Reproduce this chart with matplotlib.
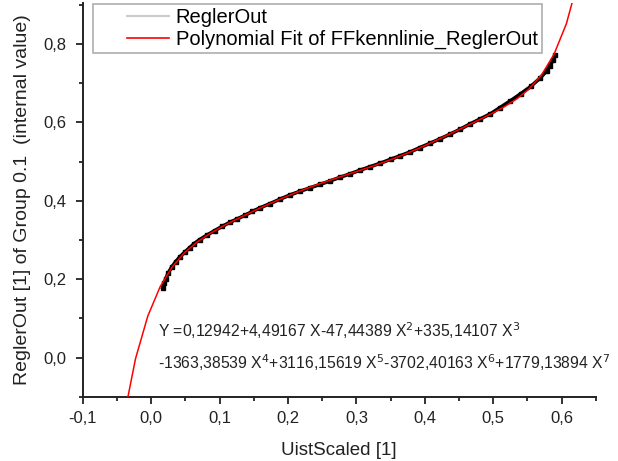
import matplotlib.pyplot as plt
import numpy as np
from matplotlib.lines import Line2D
from matplotlib.legend_handler import HandlerLine2D
from matplotlib.ticker import FuncFormatter, MultipleLocator

plt.rcParams['font.family'] = ['Liberation Sans', 'DejaVu Sans']

uist = [0.017, 0.019, 0.021, 0.025, 0.030, 0.036, 0.042, 0.049, 0.056, 0.063,
        0.071, 0.082, 0.093, 0.104, 0.115, 0.126, 0.137, 0.148, 0.159, 0.174,
        0.188, 0.203, 0.217, 0.232, 0.247, 0.262, 0.276, 0.291, 0.305, 0.320,
        0.335, 0.350, 0.364, 0.379, 0.393, 0.408, 0.422, 0.437, 0.452, 0.466,
        0.481, 0.496, 0.510, 0.525, 0.540, 0.555, 0.569, 0.578, 0.583, 0.588,
        0.591]
regler = [0.178, 0.189, 0.200, 0.216, 0.231, 0.245, 0.257, 0.269, 0.280, 0.291,
          0.301, 0.313, 0.324, 0.335, 0.345, 0.354, 0.363, 0.373, 0.382, 0.393,
          0.404, 0.415, 0.424, 0.433, 0.442, 0.451, 0.460, 0.469, 0.478, 0.487,
          0.496, 0.506, 0.515, 0.525, 0.536, 0.547, 0.558, 0.570, 0.583, 0.596,
          0.609, 0.622, 0.638, 0.655, 0.673, 0.692, 0.714, 0.731, 0.745, 0.760,
          0.772]

# polynomial fit coefficients (order 0..7) as printed on the chart
coef = [0.12942, 4.49167, -47.44389, 335.14107, -1363.38539, 3116.15619,
        -3702.40163, 1779.13894]

labels = ['ReglerOut', 'Polynomial Fit of FFkennlinie_ReglerOut']
eq1 = r'Y =0,12942+4,49167 X-47,44389 X$^2$+335,14107 X$^3$'
eq2 = r'-1363,38539 X$^4$+3116,15619 X$^5$-3702,40163 X$^6$+1779,13894 X$^7$'


class ShortHandle(HandlerLine2D):
    # legend line only on the right part of the handle box, like Origin
    def get_xdata(self, legend, xdescent, ydescent, width, height, fontsize):
        xd = np.array([-xdescent + 0.42 * width, -xdescent + width])
        return xd, xd


fig = plt.figure(figsize=(6.18, 4.61), dpi=100)
ax = fig.add_axes([0.134, 0.1395, 0.830, 0.854])

xf = np.arange(-0.041, 0.67, 0.018)
yf = np.polynomial.polynomial.polyval(xf, coef)

ax.plot(uist, regler, color='black', lw=2.6, marker='s', ms=3.0, zorder=2)
ax.plot(xf, yf, color='#ff0000', lw=1.1, zorder=3)

ax.set_xlim(-0.1, 0.65)
ax.set_ylim(-0.1, 0.905)
ax.xaxis.set_major_locator(MultipleLocator(0.1))
ax.xaxis.set_minor_locator(MultipleLocator(0.05))
ax.yaxis.set_major_locator(MultipleLocator(0.2))
ax.yaxis.set_minor_locator(MultipleLocator(0.1))
fmt = FuncFormatter(lambda v, p: ('%.1f' % v).replace('.', ','))
ax.xaxis.set_major_formatter(fmt)
ax.yaxis.set_major_formatter(fmt)
ax.tick_params(which='major', direction='out', length=5, width=1.3,
               labelsize=12, colors='#222222', pad=5)
ax.tick_params(axis='y', which='major', pad=7)
ax.tick_params(which='minor', direction='out', length=3, width=1.3,
               colors='#222222')
for s in ['top', 'right']:
    ax.spines[s].set_visible(False)
for s in ['left', 'bottom']:
    ax.spines[s].set_linewidth(1.4)
    ax.spines[s].set_color('#222222')

ax.set_xlabel('UistScaled [1]', fontsize=13.5, labelpad=12, color='#222222')
ax.set_ylabel('ReglerOut [1] of Group 0.1  (internal value)', fontsize=14,
              labelpad=9, color='#222222')

ax.text(0.0095, 0.068, eq1, fontsize=11.3, va='center', ha='left',
        color='#222222')
ax.text(0.0095, -0.014, eq2, fontsize=11.3, va='center', ha='left',
        color='#222222', clip_on=False)

handles = [Line2D([], [], color='#cccccc', lw=1.5),
           Line2D([], [], color='#ff0000', lw=1.2)]
leg = ax.legend(handles, labels, loc='upper left',
                bbox_to_anchor=(0.019, 0.998), fontsize=14.5, frameon=True,
                fancybox=False, borderpad=0.22, labelspacing=0.12,
                handlelength=3.6, handletextpad=0.3, borderaxespad=0.0,
                handler_map={Line2D: ShortHandle()})
leg.get_frame().set_edgecolor('#999999')
leg.get_frame().set_linewidth(1.2)

fig.savefig('out.png', dpi=100)
